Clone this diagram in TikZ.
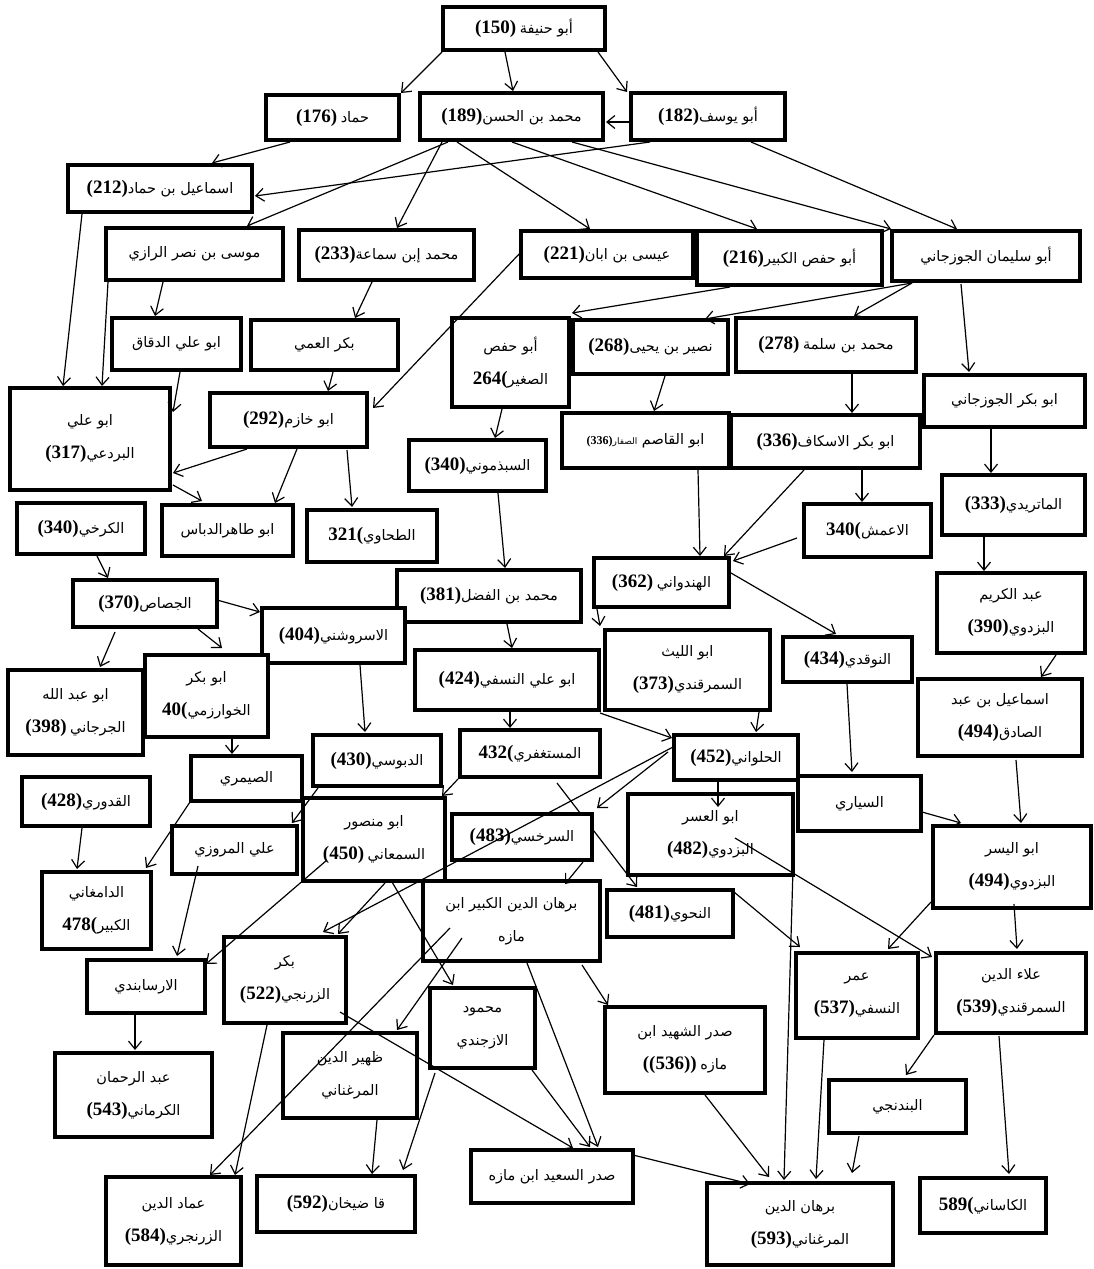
\documentclass[tikz,border=0pt]{standalone}
\usepackage{fontspec}
\setmainfont{Liberation Serif}
\newfontfamily\arfont[Script=Arabic]{DejaVu Sans}
\TeXXeTstate=1
\usetikzlibrary{arrows.meta}
\pgfdeclarelayer{bg}
\pgfsetlayers{bg,main}
\newcommand\numtx[1]{{\bfseries\fontsize{19}{21}\selectfont #1}}
\newcommand\smnum[1]{{\bfseries\fontsize{12}{14}\selectfont #1}}
\newcommand\artx[1]{{\arfont\beginR #1\endR}}
\tikzset{
  box/.style={draw, line width=4.5pt, fill=white, inner sep=0pt, outer sep=0pt,
    align=center, font=\fontsize{14.5}{33}\selectfont},
  arr/.style={line width=1.2pt, -{Straight Barb[length=8pt,width=13pt]}},
}
\newcommand\mkbox[6]{\node[box, minimum width={(#4-#2)*1pt}, minimum height={(#5-#3)*1pt}] (#1) at ({(#2+#4)/2},{(#3+#5)/2}) {#6};}
\begin{document}
\begin{tikzpicture}[x=1pt,y=-1pt]
\begin{pgfonlayer}{bg}
\fill[white] (0,0) rectangle (1094,1269);
\end{pgfonlayer}
\useasboundingbox (0,0) rectangle (1094,1269);
% ---- boxes
\mkbox{abuhanifa}{443}{7}{605}{50}{\numtx{(150)} \artx{أبو حنيفة}}
\mkbox{hammad}{266}{95}{399}{140}{\numtx{(176)} \artx{حماد}}
\mkbox{muhammad}{420}{93}{603}{140}{\numtx{(189)}\artx{محمد بن الحسن}}
\mkbox{abuyusuf}{631}{93}{785}{140}{\numtx{(182)}\artx{أبو يوسف}}
\mkbox{ismail}{68}{165}{252}{212}{\numtx{(212)}\artx{اسماعيل بن حماد}}
\mkbox{musa}{106}{228}{283}{280}{\artx{موسى بن نصر الرازي}}
\mkbox{ibnsamaa}{299}{230}{474}{280}{\numtx{(233)}\artx{محمد إبن سماعة}}
\mkbox{isa}{521}{231}{693}{278}{\numtx{(221)}\artx{عيسى بن ابان}}
\mkbox{abuhafskabir}{697}{231}{882}{285}{\numtx{(216)}\artx{أبو حفص الكبير}}
\mkbox{abusulayman}{892}{231}{1080}{281}{\artx{أبو سليمان الجوزجاني}}
\mkbox{abualidaqqaq}{112}{318}{241}{370}{\artx{ابو علي الدقاق}}
\mkbox{bakralammi}{251}{320}{398}{370}{\artx{بكر العمي}}
\mkbox{abuhafssaghir}{452}{318}{569}{407}{\artx{أبو حفص}\\\numtx{264(}\artx{الصغير}}
\mkbox{nusayr}{573}{320}{728}{374}{\numtx{(268)}\artx{نصير بن يحيى}}
\mkbox{ibnsalama}{736}{318}{916}{372}{\numtx{(278)} \artx{محمد بن سلمة}}
\mkbox{abubakrjuz}{924}{375}{1085}{427}{\artx{ابو بكر الجوزجاني}}
\mkbox{abualibardai}{10}{388}{170}{490}{\artx{ابو علي}\\\numtx{(317)}\artx{البردعي}}
\mkbox{abukhazim}{210}{393}{367}{447}{\numtx{(292)}\artx{ابو خازم}}
\mkbox{abulqasim}{562}{413}{729}{468}{\smnum{(336)}\artx{ابو القاصم {\fontsize{9}{10}\selectfont الصفار}}}
\mkbox{iskaf}{731}{415}{920}{468}{\numtx{(336)}\artx{ابو بكر الاسكاف}}
\mkbox{sabadhmuni}{409}{440}{546}{491}{\numtx{(340)}\artx{السبذموني}}
\mkbox{maturidi}{942}{475}{1085}{535}{\numtx{(333)}\artx{الماتريدي}}
\mkbox{karkhi}{17}{503}{145}{554}{\numtx{(340)}\artx{الكرخي}}
\mkbox{tahirdabbas}{162}{505}{293}{556}{\artx{ابو طاهرالدباس}}
\mkbox{tahawi}{307}{510}{437}{562}{\numtx{321(}\artx{الطحاوي}}
\mkbox{aamash}{804}{504}{931}{557}{\numtx{340(}\artx{الاعمش}}
\mkbox{hinduwani}{594}{558}{729}{607}{\numtx{(362)} \artx{الهندواني}}
\mkbox{jassas}{73}{580}{217}{627}{\numtx{(370)}\artx{الجصاص}}
\mkbox{ibnfadl}{397}{570}{581}{622}{\numtx{(381)}\artx{محمد بن الفضل}}
\mkbox{abdulkarim}{937}{573}{1085}{653}{\artx{عبد الكريم}\\\numtx{(390)}\artx{البزدوي}}
\mkbox{isrushani}{262}{608}{405}{663}{\numtx{(404)}\artx{الاسروشني}}
\mkbox{abuliyth}{605}{630}{770}{710}{\artx{ابو الليث}\\\numtx{(373)}\artx{السمرقندي}}
\mkbox{nawqadi}{783}{637}{912}{682}{\numtx{(434)}\artx{النوقدي}}
\mkbox{abuabdullah}{8}{670}{143}{755}{\artx{ابو عبد الله}\\\numtx{(398)} \artx{الجرجاني}}
\mkbox{khwarizmi}{145}{655}{268}{737}{\artx{ابو بكر}\\\numtx{40(}\artx{الخوارزمي}}
\mkbox{nasafi}{415}{650}{599}{710}{\numtx{(424)}\artx{ابو علي النسفي}}
\mkbox{ismailabd}{918}{679}{1082}{756}{\artx{اسماعيل بن عبد}\\\numtx{(494)}\artx{الصادق}}
\mkbox{dabusi}{313}{735}{441}{786}{\numtx{(430)}\artx{الدبوسي}}
\mkbox{mustaghfiri}{460}{730}{600}{777}{\numtx{432(}\artx{المستغفري}}
\mkbox{halwani}{674}{735}{798}{780}{\numtx{(452)}\artx{الحلواني}}
\mkbox{saymari}{191}{756}{302}{801}{\artx{الصيمري}}
\mkbox{quduri}{22}{777}{150}{826}{\numtx{(428)}\artx{القدوري}}
\mkbox{sayyari}{798}{776}{921}{831}{\artx{السياري}}
\mkbox{abumansur}{303}{798}{445}{881}{\artx{ابو منصور}\\\numtx{(450)} \artx{السمعاني}}
\mkbox{maruzi}{172}{826}{297}{874}{\artx{علي المروزي}}
\mkbox{sarakhsi}{452}{814}{592}{860}{\numtx{(483)}\artx{السرخسي}}
\mkbox{abuusr}{628}{794}{793}{875}{\artx{ابو العسر}\\\numtx{(482)}\artx{البزدوي}}
\mkbox{abuyusr}{933}{826}{1091}{908}{\artx{ابو اليسر}\\\numtx{(494)}\artx{البزدوي}}
\mkbox{damghani}{42}{872}{151}{949}{\artx{الدامغاني}\\\numtx{478(}\artx{الكبير}}
\mkbox{burhankabir}{423}{881}{600}{961}{\artx{برهان الدين الكبير ابن}\\\artx{مازه}}
\mkbox{nahwi}{607}{890}{733}{937}{\numtx{(481)}\artx{النحوي}}
\mkbox{arsabandi}{87}{960}{205}{1013}{\artx{الارسابندي}}
\mkbox{bakrzaranji}{224}{937}{346}{1023}{\artx{بكر}\\\numtx{(522)}\artx{الزرنجي}}
\mkbox{umarnasafi}{796}{953}{918}{1038}{\artx{عمر}\\\numtx{(537)}\artx{النسفي}}
\mkbox{alaaldin}{936}{953}{1086}{1033}{\artx{علاء الدين}\\\numtx{(539)}\artx{السمرقندي}}
\mkbox{mahmud}{430}{988}{535}{1068}{\artx{محمود}\\\artx{الازجندي}}
\mkbox{sadrshahid}{605}{1007}{765}{1093}{\artx{صدر الشهيد ابن}\\\numtx{((536))} \artx{مازه}}
\mkbox{zahir}{283}{1033}{417}{1118}{\artx{ظهير الدين}\\\artx{المرغناني}}
\mkbox{abdulrahman}{55}{1053}{212}{1137}{\artx{عبد الرحمان}\\\numtx{(543)}\artx{الكرماني}}
\mkbox{bandaniji}{829}{1080}{966}{1133}{\artx{البندنجي}}
\mkbox{sadrsaid}{471}{1150}{633}{1203}{\artx{صدر السعيد ابن مازه}}
\mkbox{imad}{106}{1177}{241}{1265}{\artx{عماد الدين}\\\numtx{(584)}\artx{الزرنجري}}
\mkbox{qadikhan}{257}{1176}{415}{1232}{\numtx{(592)}\artx{قا ضيخان}}
\mkbox{burhanmarghinani}{707}{1183}{893}{1265}{\artx{برهان الدين}\\\numtx{(593)}\artx{المرغناني}}
\mkbox{kasani}{920}{1178}{1046}{1233}{\numtx{589(}\artx{الكاساني}}
% ---- connector hidden behind a box
\begin{pgfonlayer}{bg}
\draw[arr] ([shift={(97,53)}]mustaghfiri.north west) -- ([shift={(30,-3)}]nahwi.north west);
\end{pgfonlayer}
% ---- connectors
\draw[arr] ([shift={(-1,45)}]abuhanifa.north west) -- ([shift={(135,-2)}]hammad.north west);
\draw[arr] ([shift={(62,45)}]abuhanifa.north west) -- ([shift={(93,-2)}]muhammad.north west);
\draw[arr] ([shift={(155,45)}]abuhanifa.north west) -- ([shift={(-4,-1)}]abuyusuf.north west);
\draw[arr] ([shift={(0,29)}]abuyusuf.north west) -- ([shift={(186,29)}]muhammad.north west);
\draw[arr] ([shift={(24,47)}]hammad.north west) -- ([shift={(144,-2)}]ismail.north west);
\draw[arr] ([shift={(19,49)}]abuyusuf.north west) -- ([shift={(187,31)}]ismail.north west);
\draw[arr] ([shift={(28,49)}]muhammad.north west) -- ([shift={(141,-2)}]musa.north west);
\draw[arr] ([shift={(22,49)}]muhammad.north west) -- ([shift={(98,-2)}]ibnsamaa.north west);
\draw[arr] ([shift={(37,49)}]muhammad.north west) -- ([shift={(69,-2)}]isa.north west);
\draw[arr] ([shift={(92,49)}]muhammad.north west) -- ([shift={(60,-2)}]abuhafskabir.north west);
\draw[arr] ([shift={(152,49)}]muhammad.north west) -- ([shift={(-1,-2)}]abusulayman.north west);
\draw[arr] ([shift={(120,49)}]abuyusuf.north west) -- ([shift={(65,-2)}]abusulayman.north west);
\draw[arr] ([shift={(20,52)}]abusulayman.north west) -- ([shift={(118,-2)}]ibnsalama.north west);
\draw[arr] ([shift={(20,52)}]abusulayman.north west) -- ([shift={(132,-1)}]nusayr.north west);
\draw[arr] ([shift={(33,56)}]abuhafskabir.north west) -- ([shift={(120,-5)}]abuhafssaghir.north west);
\draw[arr] ([shift={(69,53)}]abusulayman.north west) -- ([shift={(45,-3)}]abubakrjuz.north west);
\draw[arr] ([shift={(57,54)}]musa.north west) -- ([shift={(43,-2)}]abualidaqqaq.north west);
\draw[arr] ([shift={(2,54)}]musa.north west) -- ([shift={(92,-2)}]abualibardai.north west);
\draw[arr] ([shift={(14,49)}]ismail.north west) -- ([shift={(53,-2)}]abualibardai.north west);
\draw[arr] ([shift={(73,52)}]ibnsamaa.north west) -- ([shift={(104,-2)}]bakralammi.north west);
\draw[arr] ([shift={(0,21)}]isa.north west) -- ([shift={(163,15)}]abukhazim.north west);
\draw[arr] ([shift={(68,54)}]abualidaqqaq.north west) -- ([shift={(163,24)}]abualibardai.north west);
\draw[arr] ([shift={(82,52)}]bakralammi.north west) -- ([shift={(118,-2)}]abukhazim.north west);
\draw[arr] ([shift={(37,56)}]abukhazim.north west) -- ([shift={(163,85)}]abualibardai.north west);
\draw[arr] ([shift={(87,56)}]abukhazim.north west) -- ([shift={(113,-2)}]tahirdabbas.north west);
\draw[arr] ([shift={(137,57)}]abukhazim.north west) -- ([shift={(45,-3)}]tahawi.north west);
\draw[arr] ([shift={(163,97)}]abualibardai.north west) -- ([shift={(40,-4)}]tahirdabbas.north west);
\draw[arr] ([shift={(50,91)}]abuhafssaghir.north west) -- ([shift={(86,-2)}]sabadhmuni.north west);
\draw[arr] ([shift={(92,56)}]nusayr.north west) -- ([shift={(92,-2)}]abulqasim.north west);
\draw[arr] ([shift={(116,56)}]ibnsalama.north west) -- ([shift={(121,-2)}]iskaf.north west);
\draw[arr] ([shift={(67,54)}]abubakrjuz.north west) -- ([shift={(49,-2)}]maturidi.north west);
\draw[arr] ([shift={(131,55)}]iskaf.north west) -- ([shift={(58,-2)}]aamash.north west);
\draw[arr] ([shift={(73,55)}]iskaf.north west) -- ([shift={(130,-2)}]hinduwani.north west);
\draw[arr] ([shift={(-7,34)}]aamash.north west) -- ([shift={(139,3)}]hinduwani.north west);
\draw[arr] ([shift={(136,57)}]abulqasim.north west) -- ([shift={(106,-2)}]hinduwani.north west);
\draw[arr] ([shift={(89,53)}]sabadhmuni.north west) -- ([shift={(108,-2)}]ibnfadl.north west);
\draw[arr] ([shift={(42,62)}]maturidi.north west) -- ([shift={(47,-2)}]abdulkarim.north west);
\draw[arr] ([shift={(137,15)}]hinduwani.north west) -- ([shift={(53,-3)}]nawqadi.north west);
\draw[arr] ([shift={(3,51)}]hinduwani.north west) -- ([shift={(-5,-4)}]abuliyth.north west);
\draw[arr] ([shift={(80,53)}]karkhi.north west) -- ([shift={(35,-2)}]jassas.north west);
\draw[arr] ([shift={(144,20)}]jassas.north west) -- ([shift={(-2,4)}]isrushani.north west);
\draw[arr] ([shift={(125,49)}]jassas.north west) -- ([shift={(77,-7)}]khwarizmi.north west);
\draw[arr] ([shift={(42,52)}]jassas.north west) -- ([shift={(92,-3)}]abuabdullah.north west);
\draw[arr] ([shift={(98,57)}]isrushani.north west) -- ([shift={(52,-3)}]dabusi.north west);
\draw[arr] ([shift={(110,54)}]ibnfadl.north west) -- ([shift={(97,-2)}]nasafi.north west);
\draw[arr] ([shift={(95,62)}]nasafi.north west) -- ([shift={(50,-2)}]mustaghfiri.north west);
\draw[arr] ([shift={(185,63)}]nasafi.north west) -- ([shift={(-2,3)}]halwani.north west);
\draw[arr] ([shift={(154,82)}]abuliyth.north west) -- ([shift={(82,-3)}]halwani.north west);
\draw[arr] ([shift={(64,47)}]nawqadi.north west) -- ([shift={(54,-4)}]sayyari.north west);
\draw[arr] ([shift={(119,82)}]abdulkarim.north west) -- ([shift={(123,-2)}]ismailabd.north west);
\draw[arr] ([shift={(98,81)}]ismailabd.north west) -- ([shift={(88,-3)}]abuyusr.north west);
\draw[arr] ([shift={(124,36)}]sayyari.north west) -- ([shift={(28,-3)}]abuyusr.north west);
\draw[arr] ([shift={(87,84)}]khwarizmi.north west) -- ([shift={(41,-2)}]saymari.north west);
\draw[arr] ([shift={(60,51)}]quduri.north west) -- ([shift={(35,-3)}]damghani.north west);
\draw[arr] ([shift={(-1,46)}]saymari.north west) -- ([shift={(104,-4)}]damghani.north west);
\draw[arr] ([shift={(5,53)}]dabusi.north west) -- ([shift={(120,-3)}]maruzi.north west);
\draw[arr] ([shift={(26,40)}]maruzi.north west) -- ([shift={(90,-4)}]arsabandi.north west);
\draw[arr] ([shift={(-2,49)}]mustaghfiri.north west) -- ([shift={(139,-2)}]abumansur.north west);
\draw[arr] ([shift={(-1,12)}]halwani.north west) -- ([shift={(99,-5)}]bakrzaranji.north west);
\draw[arr] ([shift={(-6,17)}]halwani.north west) -- ([shift={(145,-6)}]sarakhsi.north west);
\draw[arr] ([shift={(44,45)}]halwani.north west) -- ([shift={(90,13)}]abuusr.north west);
\draw[arr] ([shift={(107,44)}]abuusr.north west) -- ([shift={(-4,4)}]alaaldin.north west);
\draw[arr] ([shift={(166,40)}]abuusr.north west) -- ([shift={(77,-3)}]burhanmarghinani.north west);
\draw[arr] ([shift={(127,2)}]nahwi.north west) -- ([shift={(4,-6)}]umarnasafi.north west);
\draw[arr] ([shift={(-2,76)}]abuyusr.north west) -- ([shift={(92,-4)}]umarnasafi.north west);
\draw[arr] ([shift={(81,78)}]abuyusr.north west) -- ([shift={(81,-4)}]alaaldin.north west);
\draw[arr] ([shift={(-2,82)}]alaaldin.north west) -- ([shift={(77,-5)}]bandaniji.north west);
\draw[arr] ([shift={(63,83)}]alaaldin.north west) -- ([shift={(89,-4)}]kasani.north west);
\draw[arr] ([shift={(28,87)}]umarnasafi.north west) -- ([shift={(109,-4)}]burhanmarghinani.north west);
\draw[arr] ([shift={(30,56)}]bandaniji.north west) -- ([shift={(145,-10)}]burhanmarghinani.north west);
\draw[arr] ([shift={(100,88)}]sadrshahid.north west) -- ([shift={(62,-6)}]burhanmarghinani.north west);
\draw[arr] ([shift={(162,5)}]sadrsaid.north west) -- ([shift={(43,1)}]burhanmarghinani.north west);
\draw[arr] ([shift={(159,84)}]burhankabir.north west) -- ([shift={(3,-2)}]sadrshahid.north west);
\draw[arr] ([shift={(104,82)}]burhankabir.north west) -- ([shift={(127,-3)}]sadrsaid.north west);
\draw[arr] ([shift={(102,82)}]mahmud.north west) -- ([shift={(119,-3)}]sadrsaid.north west);
\draw[arr] ([shift={(5,85)}]mahmud.north west) -- ([shift={(146,-6)}]qadikhan.north west);
\draw[arr] ([shift={(94,87)}]zahir.north west) -- ([shift={(115,-2)}]qadikhan.north west);
\draw[arr] ([shift={(116,75)}]bakrzaranji.north west) -- ([shift={(102,-2)}]sadrsaid.north west);
\draw[arr] ([shift={(43,88)}]bakrzaranji.north west) -- ([shift={(129,-2)}]imad.north west);
\draw[arr] ([shift={(27,47)}]burhankabir.north west) -- ([shift={(104,-2)}]imad.north west);
\draw[arr] ([shift={(39,57)}]burhankabir.north west) -- ([shift={(114,-3)}]zahir.north west);
\draw[arr] ([shift={(89,84)}]abumansur.north west) -- ([shift={(23,-3)}]mahmud.north west);
\draw[arr] ([shift={(82,85)}]abumansur.north west) -- ([shift={(114,-3)}]bakrzaranji.north west);
\draw[arr] ([shift={(24,62)}]abumansur.north west) -- ([shift={(119,4)}]arsabandi.north west);
\draw[arr] ([shift={(131,48)}]sarakhsi.north west) -- ([shift={(142,3)}]burhankabir.north west);
\draw[arr] ([shift={(48,55)}]arsabandi.north west) -- ([shift={(80,-3)}]abdulrahman.north west);
\end{tikzpicture}
\end{document}
